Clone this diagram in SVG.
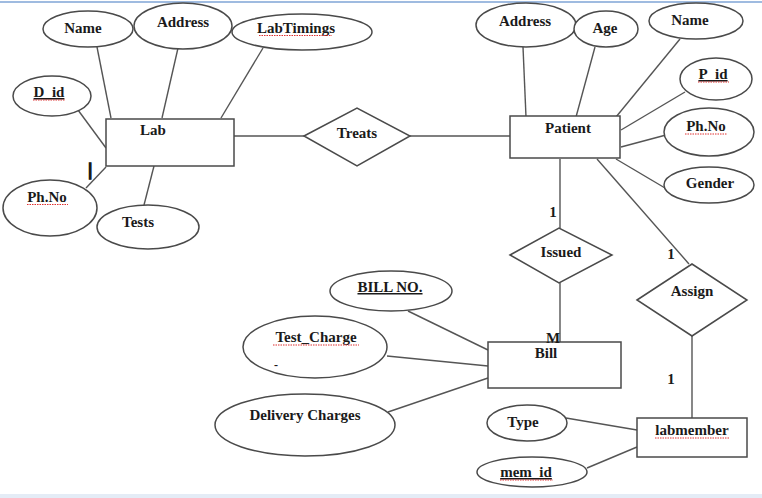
<svg xmlns="http://www.w3.org/2000/svg" width="762" height="498" viewBox="0 0 762 498">
<style>
.s{fill:none;stroke:#4a4a4a;stroke-width:1.5}
.b{fill:#fff;stroke:#4a4a4a;stroke-width:1.5}
.c{stroke:#555;stroke-width:1.4;fill:none}
text{font-family:"Liberation Serif","Times New Roman",serif;font-weight:bold;font-size:15px;fill:#1a1a1a;text-anchor:middle}
.sq{stroke:#e03030;stroke-width:1;stroke-dasharray:1.5 1;fill:none}
</style>
<rect x="0" y="0" width="762" height="498" fill="#fff"/>
<line x1="0" y1="2" x2="762" y2="2" stroke="#9fbbe0" stroke-width="2"/>
<rect x="0" y="494" width="762" height="4" fill="#e4ecf6"/>
<g id="connectors">
<line class="c" x1="97" y1="47" x2="111" y2="118"/>
<line class="c" x1="178" y1="48" x2="162" y2="118"/>
<line class="c" x1="263" y1="48" x2="221" y2="118"/>
<line class="c" x1="78" y1="110" x2="106" y2="148"/>
<line class="c" x1="86" y1="188" x2="106" y2="167"/>
<line class="c" x1="144" y1="205" x2="154" y2="166"/>
<line class="c" x1="234" y1="136" x2="304" y2="136"/>
<line class="c" x1="410" y1="136" x2="510" y2="136"/>
<line class="c" x1="523" y1="47" x2="526" y2="117"/>
<line class="c" x1="595" y1="47" x2="576" y2="117"/>
<line class="c" x1="680" y1="39" x2="616" y2="117"/>
<line class="c" x1="685" y1="92" x2="621" y2="130"/>
<line class="c" x1="666" y1="135" x2="621" y2="147"/>
<line class="c" x1="665" y1="188" x2="616" y2="159"/>
<line class="c" x1="560" y1="159" x2="560" y2="228"/>
<line class="c" x1="597" y1="159" x2="689" y2="264"/>
<line class="c" x1="560" y1="283" x2="560" y2="342"/>
<line class="c" x1="692" y1="336" x2="692" y2="418"/>
<line class="c" x1="408" y1="311" x2="488" y2="350"/>
<line class="c" x1="387" y1="356" x2="488" y2="366"/>
<line class="c" x1="388" y1="412" x2="488" y2="378"/>
<line class="c" x1="566" y1="418" x2="637" y2="430"/>
<line class="c" x1="587" y1="468" x2="637" y2="447"/>
</g>
<g id="lab"><rect class="b" x="106" y="119" width="128" height="47"/><text x="153" y="135">Lab</text></g>
<g id="lab_name"><ellipse class="b" cx="88" cy="29" rx="45" ry="18"/><text x="83" y="33">Name</text></g>
<g id="lab_address"><ellipse class="b" cx="183" cy="26" rx="49" ry="23"/><text x="183" y="27">Address</text></g>
<g id="lab_timings"><ellipse class="b" cx="302" cy="32" rx="70" ry="18"/><text x="296" y="33">LabTimings</text><path class="sq" d="M259 35.5H332"/></g>
<g id="lab_did"><ellipse class="b" cx="52" cy="96" rx="39" ry="20"/><text x="49" y="97" text-decoration="underline">D_id</text><path class="sq" d="M33 100H65"/></g>
<g id="lab_phno"><ellipse class="b" cx="50" cy="208" rx="47" ry="28"/><text x="47" y="202">Ph.No</text><path class="sq" d="M27 204.5H68"/></g>
<g id="lab_tests"><ellipse class="b" cx="148" cy="227" rx="51" ry="22"/><text x="138" y="227">Tests</text></g>
<g id="lab_card"><text x="90" y="175" style="font-size:17px;stroke:#1a1a1a;stroke-width:1.6">|</text></g>
<g id="treats"><polygon class="b" points="304,136 357,108 410,136 357,166"/><text x="357" y="138">Treats</text></g>
<g id="patient"><rect class="b" x="510" y="116" width="110" height="42"/><text x="568" y="133">Patient</text></g>
<g id="pat_address"><ellipse class="b" cx="526" cy="25" rx="50" ry="22"/><text x="525" y="26">Address</text></g>
<g id="pat_age"><ellipse class="b" cx="606" cy="29" rx="32" ry="18"/><text x="605" y="33">Age</text></g>
<g id="pat_name"><ellipse class="b" cx="696" cy="21" rx="47" ry="18"/><text x="690" y="25">Name</text></g>
<g id="pat_pid"><ellipse class="b" cx="716" cy="79" rx="36" ry="21"/><text x="713" y="79" text-decoration="underline">P_id</text><path class="sq" d="M698 82H729"/></g>
<g id="pat_phno"><ellipse class="b" cx="709" cy="132" rx="45" ry="24"/><text x="706" y="131">Ph.No</text><path class="sq" d="M685 134H727"/></g>
<g id="pat_gender"><ellipse class="b" cx="709" cy="185" rx="45" ry="18"/><text x="710" y="188">Gender</text></g>
<g id="issued"><polygon class="b" points="510,255 559,228 612,255 559,283"/><text x="561" y="257">Issued</text></g>
<g id="card_issued_1"><text x="553" y="217">1</text></g>
<g id="assign"><polygon class="b" points="637,300 692,264 747,300 692,336"/><text x="692" y="296">Assign</text></g>
<g id="card_assign_1"><text x="671" y="259">1</text></g>
<g id="card_assign_2"><text x="671" y="384">1</text></g>
<g id="bill"><rect class="b" x="488" y="342" width="133" height="46"/><text x="546" y="358">Bill</text></g>
<g id="card_m"><text x="553" y="343">M</text></g>
<g id="bill_no"><ellipse class="b" cx="391" cy="291" rx="61" ry="20"/><text x="390" y="292" text-decoration="underline">BILL NO.</text></g>
<g id="test_charge"><ellipse class="b" cx="315" cy="347" rx="72" ry="31"/><text x="316" y="342">Test_Charge</text><path class="sq" d="M273 345H359"/><text x="276" y="369" style="font-size:12px">-</text></g>
<g id="delivery"><ellipse class="b" cx="305" cy="425" rx="90" ry="31"/><text x="305" y="420">Delivery Charges</text></g>
<g id="labmember"><rect class="b" x="637" y="418" width="110" height="39"/><text x="692" y="435">labmember</text><path class="sq" d="M655 438H730"/></g>
<g id="type"><ellipse class="b" cx="527" cy="423" rx="40" ry="18"/><text x="523" y="427">Type</text></g>
<g id="mem_id"><ellipse class="b" cx="532" cy="472" rx="55" ry="15"/><text x="526" y="477" text-decoration="underline">mem_id</text><path class="sq" d="M500 480H553"/></g>
</svg>
